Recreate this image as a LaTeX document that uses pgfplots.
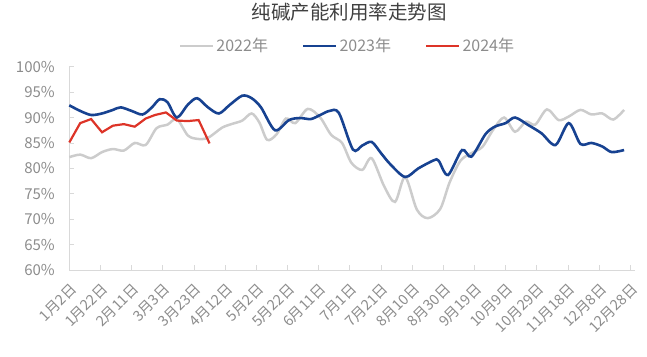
\documentclass[border=0pt]{standalone}
\usepackage{fontspec}
\setmainfont{Noto Sans CJK SC}
\usepackage{pgfplots}
\pgfplotsset{compat=1.18}
\definecolor{c22}{RGB}{204,204,204}
\definecolor{c23}{RGB}{23,66,145}
\definecolor{c24}{RGB}{221,52,40}
\definecolor{txt}{RGB}{140,140,140}
\definecolor{axl}{RGB}{217,217,217}
\begin{document}
\begin{tikzpicture}
\path[use as bounding box] (0,0) rectangle (647pt,356pt);
\node[font=\fontsize{19.5}{19.5}\selectfont, text=black!75] at (349pt,344pt) {纯碱产能利用率走势图};
\begin{axis}[at={(69.3pt,86pt)}, anchor=south west, scale only axis,
  width=565.7pt, height=203.3pt,
  xmin=0, xmax=363, ymin=60, ymax=100,
  axis lines=left, axis line style={-, axl, line width=1pt},
  tick align=inside, major tick length=5pt, tick style={axl, line width=0.8pt},
  xtick={0,20,...,360},
  xticklabels={1月2日,1月22日,2月11日,3月3日,3月23日,4月12日,5月2日,5月22日,6月11日,7月1日,7月21日,8月10日,8月30日,9月19日,10月9日,10月29日,11月18日,12月8日,12月28日},
  ytick={60,65,...,100},
  yticklabel={\pgfmathprintnumber{\tick}\%},
  /pgf/number format/assume math mode=true,
  ticklabel style={font=\fontsize{14.5}{14.5}\selectfont, text=txt},
  yticklabel style={font=\fontsize{15}{15}\selectfont, xshift=-11pt},
  xticklabel style={xshift=7pt, yshift=-14pt, rotate=45, anchor=east},
  legend style={at={(0.4918,1.102)}, anchor=center, draw=none, fill=none,
    legend columns=3, font=\fontsize{16}{16}\selectfont, text=txt,
    /tikz/every even column/.append style={column sep=32pt}},
  legend image code/.code={\draw[#1, line width=2.5pt] (0pt,0pt) -- (33pt,0pt);},
  clip=false,
]
\addplot[c22, line width=2.5pt, smooth, tension=0.5] coordinates {
(0,82.2) (7,82.7) (14,82.0) (21,83.2) (28,83.8) (35,83.5) (42,85.0) (49,84.6) (56,87.9) (63,88.6) (69,89.7) (76,86.5) (82,85.8) (89,86.0) (98,88.0) (105,88.8) (111,89.4) (117,90.8) (122,89.0) (127,85.6) (133,86.7) (139,89.8) (145,88.9) (153,91.7) (161,90.0) (168,86.6) (175,85.0) (181,81.1) (188,79.7) (194,82.0) (202,76.5) (209,73.4) (215.5,78.3) (223,71.9) (230,70.2) (238,72.0) (244,77.2) (251,81.5) (258,83.0) (265,84.2) (272,87.6) (279,90.0) (286,87.2) (293,89.2) (299,88.6) (306.5,91.6) (314,89.5) (320.5,90.2) (328,91.5) (335,90.6) (342,90.8) (349,89.6) (356,91.5)
};
\addlegendentry{2022年}
\addplot[c23, line width=2.6pt, smooth, tension=0.5] coordinates {
(0,92.4) (7,91.3) (14,90.5) (21,90.8) (28,91.5) (33,92.0) (40,91.3) (47,90.6) (53,92.0) (58,93.6) (63,93.0) (69,90.0) (76,92.5) (82,93.8) (89,92.0) (96,90.8) (103,92.5) (111,94.3) (117,93.8) (123,92.0) (132,87.5) (141,89.5) (148,89.9) (155,89.7) (161,90.5) (167,91.3) (173,90.9) (182,83.7) (188,84.5) (194,85.2) (200,83.0) (206,80.8) (215.5,78.3) (224,80.0) (234,81.6) (237,81.5) (243,78.7) (252,83.6) (258,82.3) (267,86.7) (273,88.2) (280,88.9) (286,90.0) (294.6,88.5) (303,86.9) (312,84.6) (320.5,88.9) (328,84.8) (335,85.0) (342,84.3) (348,83.2) (356,83.6)
};
\addlegendentry{2023年}
\addplot[c24, line width=2.2pt] coordinates {
(0,85.1) (7,88.9) (14,89.7) (21,87.1) (28,88.4) (35,88.7) (42,88.2) (49,89.8) (55,90.5) (62,91.0) (69,89.4) (76,89.3) (83,89.5) (90,84.9)
};
\addlegendentry{2024年}
\end{axis}
\end{tikzpicture}
\end{document}
